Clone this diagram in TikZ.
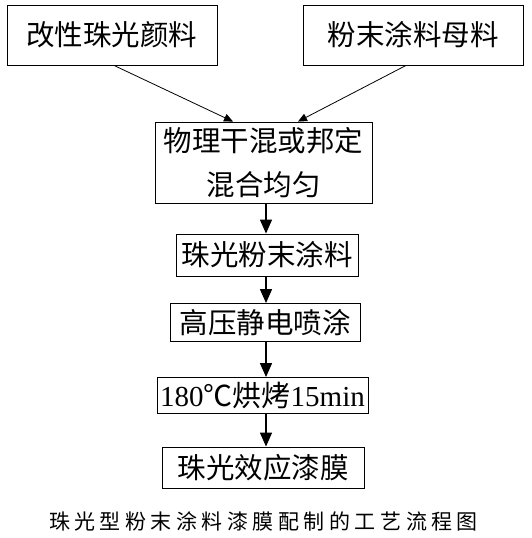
\documentclass[tikz,border=0pt]{standalone}
\usepackage{fontspec}
\setmainfont{Liberation Serif}
\newfontfamily\cjk{Noto Sans CJK SC}
\usetikzlibrary{arrows.meta}
\tikzset{
  box/.style={draw=black, line width=0.9pt, rectangle, inner sep=0pt, font=\cjk\fontsize{28.5}{44}\selectfont, align=center},
  varrow/.style={line width=1.4pt, -{Triangle[width=12pt,length=14pt]}},
  darrow/.style={line width=0.8pt, -{Triangle[width=8pt,length=9pt]}},
}
\newcommand{\gp}{\hspace{4.5pt}}
\begin{document}
\begin{tikzpicture}[x=1pt,y=-1pt]
\useasboundingbox[fill=white] (0,0) rectangle (531,538);
\node[box, minimum width=210pt, minimum height=60pt] (b1) at (112,35) {改性珠光颜料};
\node[box, minimum width=220pt, minimum height=60pt] (b2) at (413,35) {粉末涂料母料};
\node[box, minimum width=217pt, minimum height=81pt] (b3) at (263.5,162.5) {物理干混或邦定\\混合均匀};
\node[box, minimum width=182pt, minimum height=42pt] (b4) at (267,255) {珠光粉末涂料};
\node[box, minimum width=190pt, minimum height=38pt] (b5) at (265,322.5) {高压静电喷涂};
\node[box, minimum width=211pt, minimum height=36pt] (b6) at (262.5,395.5) {\fontsize{29}{30}\selectfont{\rmfamily 180}℃烘烤{\rmfamily 15min}};
\node[box, minimum width=202pt, minimum height=41pt] (b7) at (263,467.5) {珠光效应漆膜};
\node[font=\cjk\fontsize{21}{26}\selectfont] (cap) at (263.5,521) {珠\gp 光\gp 型\gp 粉\gp 末\gp 涂\gp 料\gp 漆\gp 膜\gp 配\gp 制\gp 的\gp 工\gp 艺\gp 流\gp 程\gp 图};
\coordinate (ax) at (266,0);
\coordinate (s1) at (114,0);
\coordinate (s2) at (406,0);
\coordinate (e1) at (233,0);
\coordinate (e2) at (298,0);
\draw[darrow] (b1.south -| s1) -- (b3.north -| e1);
\draw[darrow] (b2.south -| s2) -- (b3.north -| e2);
\draw[varrow] (b3.south -| ax) -- (b4.north -| ax);
\draw[varrow] (b4.south -| ax) -- (b5.north -| ax);
\draw[varrow] (b5.south -| ax) -- (b6.north -| ax);
\draw[varrow] (b6.south -| ax) -- (b7.north -| ax);
\end{tikzpicture}
\end{document}
